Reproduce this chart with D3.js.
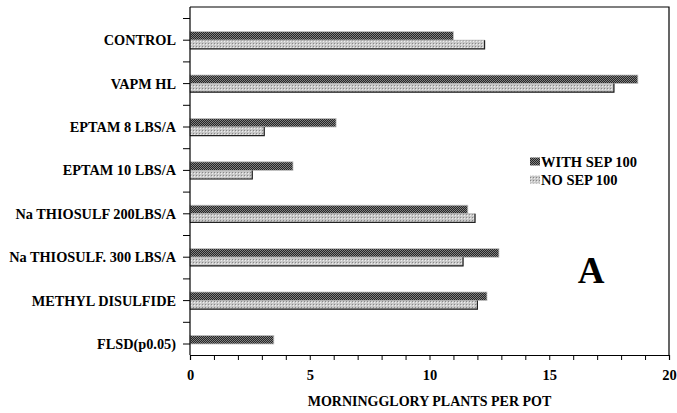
<!DOCTYPE html>
<html>
<head>
<meta charset="utf-8">
<script src="https://cdn.jsdelivr.net/npm/d3@7"></script>
<style>
  body { margin: 0; background: #fff; }
</style>
</head>
<body>
<div id="viz"></div>
<script>
// treatments, top to bottom
const categories = ["CONTROL", "VAPM HL", "EPTAM 8 LBS/A", "EPTAM 10 LBS/A",
  "Na THIOSULF 200LBS/A", "Na THIOSULF. 300 LBS/A", "METHYL DISULFIDE", "FLSD(p0.05)"];
const withSep = [11.0, 18.7, 6.1, 4.3, 11.6, 12.9, 12.4, 3.5];
const noSep = [12.3, 17.7, 3.1, 2.6, 11.9, 11.4, 12.0, null];
const seriesNames = ["WITH SEP 100", "NO SEP 100"];
const xTicks = [0, 5, 10, 15, 20];

const FONT = "'Liberation Serif', 'Times New Roman', serif";
const W = 677, H = 413;
const margin = {left: 190, right: 8, top: 7, bottom: 58};
const width = W - margin.left - margin.right;
const height = H - margin.top - margin.bottom;

const svg = d3.select("#viz").append("svg")
  .attr("width", W).attr("height", H)
  .attr("font-family", FONT).attr("font-weight", "bold");

// fill patterns for the two series
const defs = svg.append("defs");
const pDark = defs.append("pattern").attr("id", "pDark")
  .attr("width", 2).attr("height", 2).attr("patternUnits", "userSpaceOnUse");
pDark.append("rect").attr("width", 2).attr("height", 2).attr("fill", "#808080");
pDark.append("rect").attr("width", 1).attr("height", 1).attr("fill", "#262626");
pDark.append("rect").attr("x", 1).attr("y", 1).attr("width", 1).attr("height", 1).attr("fill", "#262626");
const pLight = defs.append("pattern").attr("id", "pLight")
  .attr("width", 3).attr("height", 3).attr("patternUnits", "userSpaceOnUse");
pLight.append("rect").attr("width", 3).attr("height", 3).attr("fill", "#c8c8c8");
pLight.append("rect").attr("width", 1).attr("height", 1).attr("fill", "#888");
pLight.append("rect").attr("x", 1).attr("y", 1).attr("width", 1).attr("height", 1).attr("fill", "#eee");

const g = svg.append("g")
  .attr("transform", "translate(" + margin.left + "," + margin.top + ")");

// scales
const xScale = d3.scaleLinear().domain([0, 20]).range([0, width]);
// band boundaries start a bit below the frame top; last band is cut by the axis
const yScale = d3.scaleBand().domain(categories).range([11.5, 11.5 + 8 * 43.4]).padding(0);
const bh = 8.6;

// frame (top + right)
g.append("path")
  .attr("d", "M0,0H" + width + "V" + height)
  .attr("fill", "none").attr("stroke", "#000").attr("stroke-width", 1.2);

// bars
const rows = categories.map((c, i) => ({c, a: withSep[i], b: noSep[i]}));
rows.forEach(d => {
  const cy = yScale(d.c) + yScale.bandwidth() / 2;
  g.append("rect")
    .attr("x", 0).attr("y", cy - bh).attr("width", xScale(d.a)).attr("height", bh)
    .attr("fill", "url(#pDark)").attr("stroke", "#c4c4c4").attr("stroke-width", 0.8);
  if (d.b != null) {
    g.append("rect")
      .attr("x", 0).attr("y", cy).attr("width", xScale(d.b)).attr("height", bh)
      .attr("fill", "url(#pLight)").attr("stroke", "#b0b0b0").attr("stroke-width", 0.8);
    // dark shadow edge on the bottom/right
    g.append("path")
      .attr("d", "M0," + (cy + bh) + "H" + xScale(d.b) + "V" + cy)
      .attr("fill", "none").attr("stroke", "#222").attr("stroke-width", 1.2);
  }
});

// y axis: ticks at category centres and band boundaries
const yAxisG = g.append("g");
yAxisG.append("line").attr("x1", 0).attr("x2", 0).attr("y1", 0).attr("y2", height)
  .attr("stroke", "#000").attr("stroke-width", 1.2);
const bounds = categories.map(c => yScale(c));
yAxisG.selectAll(".bt").data(bounds).join("line")
  .attr("x1", -7).attr("x2", 0).attr("y1", d => d).attr("y2", d => d)
  .attr("stroke", "#000");
yAxisG.selectAll(".ct").data(categories).join("line")
  .attr("x1", -7).attr("x2", 0)
  .attr("y1", d => yScale(d) + yScale.bandwidth() / 2)
  .attr("y2", d => yScale(d) + yScale.bandwidth() / 2)
  .attr("stroke", "#000");
yAxisG.selectAll(".lbl").data(categories).join("text")
  .attr("x", -14).attr("y", d => yScale(d) + yScale.bandwidth() / 2)
  .attr("dy", "0.35em").attr("text-anchor", "end")
  .attr("font-size", 14.3).text(d => d);

// x axis
const xAxis = d3.axisBottom(xScale).tickValues(d3.range(0, 21, 1))
  .tickSize(5).tickFormat(d => xTicks.includes(d) ? d : "");
const xAxisG = g.append("g").attr("transform", "translate(0," + height + ")").call(xAxis);
xAxisG.select(".domain").attr("stroke-width", 1.2);
xAxisG.selectAll("text").attr("font-size", 14.5).attr("y", 15).attr("dy", "0.71em")
  .attr("font-family", FONT).attr("font-weight", "bold");

g.append("text")
  .attr("x", xScale(10)).attr("y", height + 51)
  .attr("text-anchor", "middle").attr("font-size", 14)
  .text("MORNINGGLORY PLANTS PER POT");

// legend
const legend = g.append("g").attr("transform", "translate(340,155)");
seriesNames.forEach((s, i) => {
  legend.append("rect").attr("x", 0).attr("y", i * 18 - 4.5).attr("width", 10).attr("height", 8)
    .attr("fill", i === 0 ? "url(#pDark)" : "url(#pLight)");
  legend.append("text").attr("x", 11).attr("y", i * 18).attr("dy", "0.35em")
    .attr("font-size", 14.5).text(s);
});

// panel letter
g.append("text").attr("x", xScale(16.75)).attr("y", 276)
  .attr("text-anchor", "middle").attr("font-size", 37).text("A");
</script>
</body>
</html>
